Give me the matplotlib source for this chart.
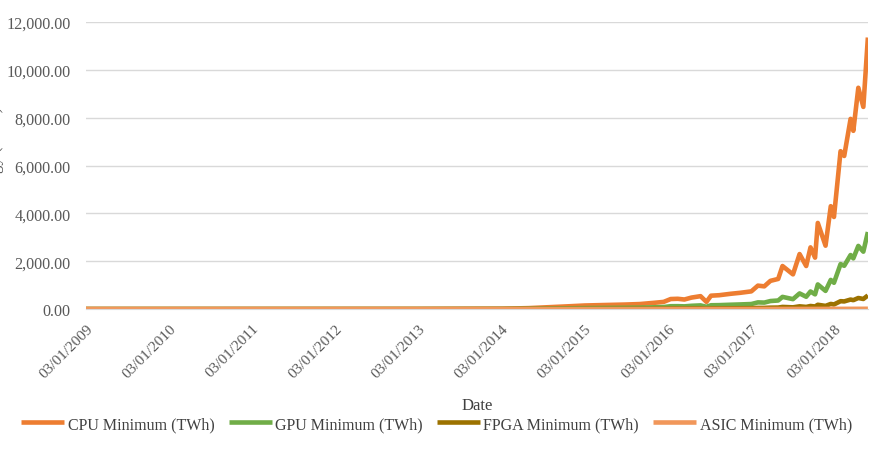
"""Minimum mining energy by hardware type, 2009-2018 (recreated line chart)."""
import numpy as np
import pandas as pd
import matplotlib
matplotlib.use("Agg")
import matplotlib.pyplot as plt
from matplotlib.ticker import FuncFormatter

# values (TWh)
dates = [
    "2009-01-03", "2010-01-03", "2011-01-03", "2012-01-03", "2013-01-03",
    "2014-01-03", "2014-05-01", "2014-08-01", "2014-11-01", "2015-01-03",
    "2015-04-01", "2015-07-01", "2015-09-01", "2015-11-01", "2015-12-15",
    "2016-01-15", "2016-02-15", "2016-03-15", "2016-04-15", "2016-05-25",
    "2016-06-20", "2016-07-10", "2016-08-15", "2016-10-05", "2016-11-15",
    "2017-01-03", "2017-02-01", "2017-03-01", "2017-03-28", "2017-05-01",
    "2017-05-20", "2017-07-05", "2017-08-03", "2017-09-01", "2017-09-20",
    "2017-10-10", "2017-10-22", "2017-11-25", "2017-12-18", "2018-01-01",
    "2018-01-30", "2018-02-15", "2018-03-15", "2018-03-27", "2018-04-18",
    "2018-05-10", "2018-05-30",
]
cpu = [0, 1, 2, 3, 5, 15, 40, 80, 120, 150,
       170, 190, 210, 260, 300, 420, 430, 400, 480, 540,
       300, 560, 580, 640, 680, 740, 980, 950, 1180, 1260,
       1800, 1450, 2300, 1800, 2580, 2150, 3600, 2650, 4300, 3850,
       6600, 6400, 7950, 7450, 9250, 8450, 11350]
gpu = [0, 0, 0, 1, 1, 4, 11, 22, 34, 42,
       48, 54, 60, 74, 85, 120, 122, 114, 137, 154,
       95, 160, 165, 182, 194, 211, 280, 271, 336, 359,
       510, 415, 655, 515, 735, 615, 1030, 760, 1220, 1100,
       1880, 1810, 2260, 2120, 2640, 2400, 3220]
fpga = [0, 0, 0, 0, 0, 1, 2, 4, 6, 8,
        9, 10, 11, 13, 15, 21, 22, 20, 24, 27,
        15, 28, 29, 32, 34, 37, 49, 48, 59, 63,
        90, 73, 115, 90, 129, 108, 180, 133, 215, 193,
        330, 320, 398, 373, 463, 423, 570]
asic = [0, 0, 0, 0, 0, 0, 0, 1, 1, 1,
        1, 1, 1, 2, 2, 2, 2, 2, 2, 3,
        3, 3, 3, 3, 3, 4, 4, 4, 4, 5,
        5, 5, 6, 6, 6, 6, 7, 7, 8, 8,
        9, 9, 10, 10, 11, 11, 12]
year_ticks = [f"{y}-01-03" for y in range(2009, 2019)]

SERIES = [
    ("CPU Minimum (TWh)", cpu, "#ED7D31"),
    ("GPU Minimum (TWh)", gpu, "#70AD47"),
    ("FPGA Minimum (TWh)", fpga, "#9C7200"),
    ("ASIC Minimum (TWh)", asic, "#F1975A"),
]

plt.rcParams["font.family"] = ["Liberation Serif", "DejaVu Serif"]

x = pd.to_datetime(dates)
fig = plt.figure(figsize=(8.82, 4.56), dpi=100)
ax = fig.add_axes([0.0975, 0.32, 0.8865, 0.6296])

for label, vals, color in SERIES:
    ax.plot(x, vals, color=color, lw=3.3, label=label, solid_capstyle="butt")

ax.set_ylim(0, 12000)
ax.set_yticks(np.arange(0, 12001, 2000))
ax.yaxis.set_major_formatter(FuncFormatter(lambda v, _: f"{v:,.2f}"))
ax.set_xlim(x[0], x[-1])
ticks = pd.to_datetime(year_ticks)
ax.set_xticks(ticks)
ax.set_xticklabels([t.strftime("%d/%m/%Y") for t in ticks], rotation=45,
                   ha="right", va="top", rotation_mode="anchor")
ax.tick_params(length=0, colors="#595959")
ax.tick_params(axis="x", labelsize=11, pad=9)
ax.tick_params(axis="y", labelsize=11.6, pad=11)
ax.grid(axis="y", color="#D9D9D9", lw=1)
ax.set_axisbelow(True)
for s in ["top", "right", "left"]:
    ax.spines[s].set_visible(False)
ax.spines["bottom"].set_color("#D9D9D9")

ax.set_xlabel("Date", fontsize=12, color="#404040", labelpad=12)
fig.text(-0.004, 0.66, "Energy (TWh)", rotation=90, fontsize=12,
         color="#595959", va="center", ha="center")

fig.legend(loc="center", bbox_to_anchor=(0.495, 0.068), ncol=4, frameon=False,
           fontsize=11.5, handlelength=2.7, handletextpad=0.2,
           columnspacing=0.9, labelcolor="#404040")

fig.savefig("out.png", dpi=100)
